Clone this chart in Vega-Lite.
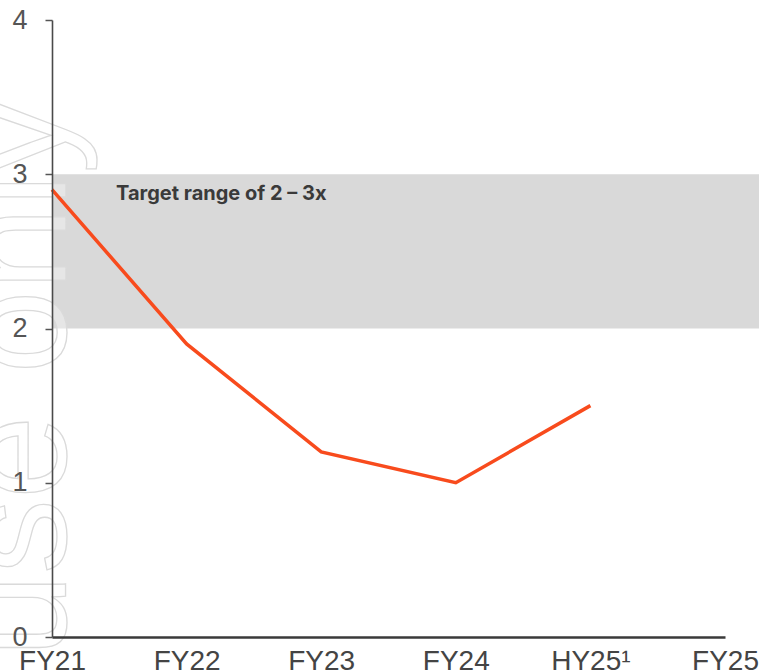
{
  "$schema": "https://vega.github.io/schema/vega-lite/v6.json",
  "autosize": {"type": "none"},
  "padding": {"left": 52, "top": 20, "right": 0, "bottom": 34},
  "width": 707,
  "height": 617,
  "background": "white",
  "config": {
    "view": {"stroke": null},
    "axis": {"grid": false, "title": null}
  },
  "datasets": {
    "leverage": [
      {"period": "FY21", "ratio": 2.9},
      {"period": "FY22", "ratio": 1.9},
      {"period": "FY23", "ratio": 1.2},
      {"period": "FY24", "ratio": 1.0},
      {"period": "HY25¹", "ratio": 1.5}
    ],
    "target": [{"low": 2, "high": 3, "label": "Target range of 2 – 3x"}],
    "mark": [{"text": "For personal use only", "period": "FY21", "pos": 3.49}]
  },
  "encoding": {
    "x": {
      "field": "period",
      "type": "ordinal",
      "scale": {
        "type": "point",
        "domain": ["FY21", "FY22", "FY23", "FY24", "HY25¹", "FY25"],
        "range": [0, 673],
        "padding": 0
      },
      "axis": {
        "zindex": 2,
        "labelAngle": 0,
        "ticks": false,
        "tickSize": 0,
        "labelPadding": 32,
        "labelBaseline": "alphabetic",
        "labelFont": "Liberation Sans Narrow, Liberation Sans",
        "labelFontSize": 28,
        "labelColor": "#444444",
        "domainColor": "#3a3a3a",
        "domainWidth": 2.5
      }
    }
  },
  "layer": [
    {
      "data": {"name": "target"},
      "mark": {"type": "rect", "color": "#d9d9d9"},
      "encoding": {
        "x": null,
        "y": {"field": "low", "type": "quantitative"},
        "y2": {"field": "high"}
      }
    },
    {
      "data": {"name": "mark"},
      "mark": {
        "type": "text",
        "angle": 270,
        "align": "right",
        "baseline": "alphabetic",
        "dy": 14,
        "font": "Liberation Sans",
        "fontSize": 150,
        "fill": "white",
        "fillOpacity": 0.35,
        "stroke": "#dadada",
        "strokeWidth": 1.3
      },
      "encoding": {
        "x": {"field": "period", "type": "ordinal"},
        "y": {"field": "pos", "type": "quantitative"},
        "text": {"field": "text"}
      }
    },
    {
      "data": {"name": "leverage"},
      "mark": {"type": "line", "color": "#F84B1D", "strokeWidth": 3.5},
      "encoding": {
        "y": {
          "field": "ratio",
          "type": "quantitative",
          "scale": {"domain": [0, 4], "nice": false},
          "axis": {
            "zindex": 2,
            "values": [0, 1, 2, 3, 4],
            "format": "d",
            "tickSize": 7,
            "tickColor": "#555555",
            "tickWidth": 1.5,
            "labelPadding": 18,
            "labelFont": "Liberation Sans Narrow, Liberation Sans",
            "labelFontSize": 27,
            "labelColor": "#555555",
            "domainColor": "#4a4a4a",
            "domainWidth": 1.6
          }
        }
      }
    },
    {
      "data": {"name": "target"},
      "mark": {
        "type": "text",
        "align": "left",
        "baseline": "middle",
        "dx": 64,
        "font": "Inter",
        "fontWeight": 700,
        "fontSize": 20,
        "color": "#3a3a3a"
      },
      "encoding": {
        "x": {"datum": "FY21"},
        "y": {"datum": 2.87},
        "text": {"field": "label"}
      }
    }
  ]
}
